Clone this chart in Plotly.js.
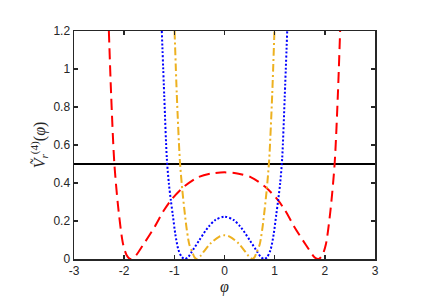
<!DOCTYPE html>
<html>
<head>
<meta charset="utf-8">
<script src="https://cdn.plot.ly/plotly-3.0.1.min.js"></script>
<style>html,body{margin:0;padding:0;background:#fff;}#chart{width:436px;height:308px;}</style>
</head>
<body>
<div id="chart"></div>
<script>
// Red dashed curve
const phiRed = [-2.305,-2.26,-2.195,-2.11,-2.02,-1.95,-1.88,-1.80,-1.62,-1.39,-1.21,-1.05,-0.81,-0.53,-0.28,0,
                0.28,0.53,0.81,1.05,1.21,1.39,1.62,1.80,1.88,1.95,2.02,2.11,2.195,2.26,2.305];
const vRed   = [1.2,0.867,0.5,0.25,0.076,0.02,0,0.008,0.075,0.17,0.255,0.315,0.38,0.43,0.449,0.456,
                0.449,0.43,0.38,0.315,0.255,0.17,0.075,0.008,0,0.02,0.076,0.25,0.5,0.867,1.2];
// Blue dotted curve
const phiBlue = [-1.25,-1.20,-1.15,-1.11,-1.07,-1.03,-0.98,-0.92,-0.85,-0.79,-0.72,-0.66,-0.51,-0.38,-0.31,-0.18,0,
                 0.18,0.31,0.38,0.51,0.66,0.72,0.79,0.85,0.92,0.98,1.03,1.07,1.11,1.15,1.20,1.25];
const vBlue   = [1.2,0.85,0.53,0.40,0.31,0.23,0.13,0.05,0.01,0,0.012,0.035,0.096,0.148,0.172,0.206,0.223,
                 0.206,0.172,0.148,0.096,0.035,0.012,0,0.01,0.05,0.13,0.23,0.31,0.40,0.53,0.85,1.2];
// Orange dash-dot curve
const phiOrange = [-0.995,-0.95,-0.89,-0.84,-0.80,-0.76,-0.72,-0.70,-0.64,-0.60,-0.56,-0.48,-0.41,-0.28,-0.11,0,
                   0.11,0.28,0.41,0.48,0.56,0.60,0.64,0.70,0.72,0.76,0.80,0.84,0.89,0.95,0.995];
const vOrange   = [1.2,0.86,0.52,0.36,0.26,0.17,0.10,0.075,0.035,0.01,0,0.016,0.04,0.082,0.117,0.125,
                   0.117,0.082,0.04,0.016,0,0.01,0.035,0.075,0.10,0.17,0.26,0.36,0.52,0.86,1.2];
// Horizontal reference line
const phiLine = [-3,3];
const vLine = [0.5,0.5];

const xTicks = [-3,-2,-1,0,1,2,3];
const yTicks = [0,0.2,0.4,0.6,0.8,1,1.2];
const yTickText = ['0','0.2','0.4','0.6','0.8','1','1.2'];

const traces = [
  {x: phiLine, y: vLine, mode:'lines', line:{color:'#000000', width:2}, hoverinfo:'skip'},
  {x: phiRed, y: vRed, mode:'lines', line:{color:'#FF0000', width:2, dash:'11px,6px', shape:'spline', smoothing:0.8}},
  {x: phiBlue, y: vBlue, mode:'lines', line:{color:'#0000FF', width:2, dash:'2px,2px', shape:'spline', smoothing:0.8}},
  {x: phiOrange, y: vOrange, mode:'lines', line:{color:'#EDB120', width:2, dash:'8px,3px,2px,3px', shape:'spline', smoothing:0.8}}
];

const axisCommon = {
  showline:true, mirror:'ticks', linecolor:'#262626', linewidth:1.5,
  ticks:'inside', ticklen:4, tickwidth:1.5, tickcolor:'#262626',
  showgrid:false, zeroline:false,
  tickfont:{family:'Liberation Sans, Arial, sans-serif', size:12, color:'#262626'}
};

const layout = {
  width:436, height:308,
  margin:{l:74, r:61, t:31, b:49},
  paper_bgcolor:'#ffffff', plot_bgcolor:'#ffffff',
  showlegend:false,
  xaxis: Object.assign({}, axisCommon, {
    range:[-3,3], tickvals:xTicks, ticktext:xTicks.map(String),
    title:{text:'<i>φ</i>', font:{family:'Liberation Serif, Times New Roman, serif', size:16, color:'#262626'}, standoff:4}
  }),
  yaxis: Object.assign({}, axisCommon, {
    range:[0,1.2], tickvals:yTicks, ticktext:yTickText,
    title:{text:'<i>Ṽ</i><sub><i>r</i></sub><sup>(4)</sup>(<i>φ</i>)', font:{family:'Liberation Serif, Times New Roman, serif', size:16, color:'#262626'}, standoff:4}
  })
};

Plotly.newPlot('chart', traces, layout, {staticPlot:true, displayModeBar:false});
</script>
</body>
</html>
